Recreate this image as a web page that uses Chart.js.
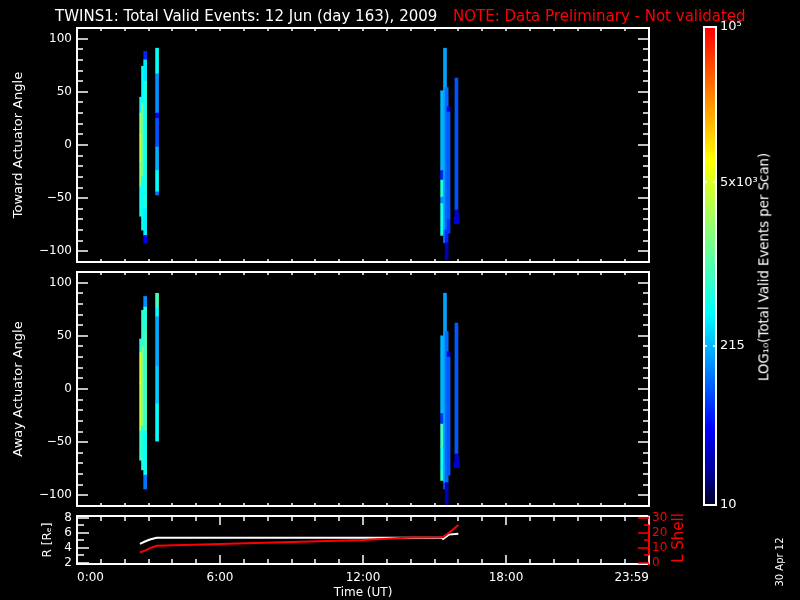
<!DOCTYPE html>
<html>
<head>
<meta charset="utf-8">
<script src="https://cdn.jsdelivr.net/npm/chart.js@4.4.1/dist/chart.umd.min.js"></script>
<style>
  html, body { margin: 0; background: #000; }
  #wrap { position: relative; width: 800px; height: 600px; overflow: hidden; background: #000; font-family: "DejaVu Sans", sans-serif; }
  #wrap canvas { position: absolute; left: 0; top: 0; }
  .txt { position: absolute; white-space: nowrap; color: #fff; line-height: 1; }
  .rot { transform: translate(-50%, -50%) rotate(-90deg); }
</style>
</head>
<body>
<div id="wrap">
  <canvas id="toward" width="800" height="600"></canvas>
  <canvas id="away" width="800" height="600"></canvas>
  <canvas id="orbit" width="800" height="600"></canvas>
  <canvas id="cbar" width="800" height="600"></canvas>
  <div class="txt" style="left:55px; top:9px; font-size:15px;">TWINS1: Total Valid Events: 12 Jun (day 163), 2009</div>
  <div class="txt" style="left:453px; top:9px; font-size:15px; color:#f00;">NOTE: Data Preliminary - Not validated</div>
  <div class="txt rot" style="left:764px; top:267px; font-size:13.3px;">LOG₁₀(Total Valid Events per Scan)</div>
  <div class="txt rot" style="left:678px; top:538px; font-size:15px; color:#f00;">L Shell</div>
  <div class="txt rot" style="left:780px; top:562px; font-size:10px;">30 Apr 12</div>
</div>
<script>
// ------------------ Dados ------------------
// eixo do tempo (horas UT)
const timeTicks = [0, 6, 12, 18, 24];
const timeLabels = ['0:00', '6:00', '12:00', '18:00', '23:59'];

// barra de cores (eventos por varredura, escala log)
const barTicks = [10, 215, 5000, 100000];
const barLabels = ['10', '215', '5x10³', '10⁵'];

// colunas do espectrograma: [hora UT, angulo min, angulo max, eventos]
const toward = [
  [2.69, 30, 45, 380],
  [2.69, 10, 30, 2200],
  [2.69, -15, 10, 3500],
  [2.69, -39, -15, 2000],
  [2.69, -67, -39, 500],
  [2.77, 40, 74, 420],
  [2.77, -30, 40, 1300],
  [2.77, -80, -30, 450],
  [2.86, 80, 88, 60],
  [2.86, 60, 80, 330],
  [2.86, -60, 60, 520],
  [2.86, -85, -60, 350],
  [2.86, -92, -85, 40],
  [3.36, 67, 91, 420],
  [3.36, 30, 67, 150],
  [3.36, 25, 30, 40],
  [3.36, -2, 25, 90],
  [3.36, -24, -2, 200],
  [3.36, -44, -24, 400],
  [3.36, -47, -44, 120],
  [15.32, -24, 51, 210],
  [15.32, -33, -24, 60],
  [15.32, -49, -33, 550],
  [15.32, -55, -49, 150],
  [15.32, -85, -55, 480],
  [15.44, -80, 91, 180],
  [15.44, -92, -80, 120],
  [15.51, -80, 54, 110],
  [15.51, -92, -80, 60],
  [15.51, -108, -92, 25],
  [15.59, 31, 36, 35],
  [15.59, -70, 31, 95],
  [15.59, -83, -70, 70],
  [15.88, -74, -68, 30],
  [15.92, -61, 63, 90],
  [15.92, -74, -61, 35],
  [15.97, -74, -64, 30]
];

const away = [
  [2.69, 34, 47, 600],
  [2.69, 5, 34, 4500],
  [2.69, -39, 5, 3800],
  [2.69, -67, -39, 700],
  [2.77, 40, 74, 700],
  [2.77, -35, 40, 1800],
  [2.77, -76, -35, 600],
  [2.86, 77, 87, 150],
  [2.86, 55, 77, 600],
  [2.86, -40, 55, 800],
  [2.86, -81, -40, 450],
  [2.86, -94, -81, 120],
  [3.36, 77, 90, 900],
  [3.36, 68, 77, 420],
  [3.36, 21, 68, 190],
  [3.36, -14, 21, 260],
  [3.36, -49, -14, 400],
  [15.32, -23, 50, 210],
  [15.32, -33, -23, 70],
  [15.32, -55, -33, 800],
  [15.32, -78, -55, 450],
  [15.32, -86, -78, 650],
  [15.44, -88, 90, 180],
  [15.44, -94, -88, 90],
  [15.51, -88, 54, 110],
  [15.51, -109, -88, 25],
  [15.59, 30, 35, 35],
  [15.59, -81, 30, 95],
  [15.88, -74, -68, 30],
  [15.92, -61, 62, 95],
  [15.92, -74, -61, 35],
  [15.97, -74, -64, 30]
];

// orbita: distancia R [Re] e L shell
const rHours = [2.64, 2.85, 3.06, 3.34, 15.3, 15.36, 15.6, 16.0];
const rValues = [4.48, 4.8, 5.07, 5.3, 5.3, 5.15, 5.72, 5.82];
const lHours = [2.64, 2.85, 3.06, 3.34, 6, 9, 12, 14, 15.36, 15.7, 16.0];
const lValues = [6.7, 7.9, 9.6, 11.2, 12.3, 13.6, 15.0, 16.7, 16.9, 21, 25];

// ------------------ Cores ------------------
const cmap = [
  [0, 0, 0, 40], [0.06, 0, 0, 140], [0.16, 0, 0, 255], [0.28, 0, 128, 255],
  [0.40, 0, 255, 255], [0.56, 128, 255, 128], [0.72, 255, 255, 0],
  [0.86, 255, 128, 0], [1, 255, 0, 0]
];
const logMin = Math.log10(barTicks[0]);
const logMax = Math.log10(barTicks[barTicks.length - 1]);

function evColor(n) {
  const f = Math.min(1, Math.max(0, (Math.log10(n) - logMin) / (logMax - logMin)));
  for (let i = 1; i < cmap.length; i++) {
    if (f <= cmap[i][0]) {
      const a = cmap[i - 1], b = cmap[i], t = (f - a[0]) / (b[0] - a[0]);
      return 'rgb(' + [1, 2, 3].map(k => Math.round(a[k] + t * (b[k] - a[k]))).join(',') + ')';
    }
  }
  return 'rgb(255,0,0)';
}

// ------------------ Moldura e marcas internas ------------------
// fora das opcoes do Chart.js, por id do canvas
const frames = {
  toward: {color: '#fff', marks: [
    {scale: 'x', from: 0, to: 24, step: 1, len: 3, edges: ['top', 'bottom']},
    {scale: 'y', from: -100, to: 100, step: 10, major: 50, len: 6, majorLen: 11, edges: ['left', 'right']}
  ]},
  away: {color: '#fff', marks: [
    {scale: 'x', from: 0, to: 24, step: 1, len: 3, edges: ['top', 'bottom']},
    {scale: 'y', from: -100, to: 100, step: 10, major: 50, len: 6, majorLen: 11, edges: ['left', 'right']}
  ]},
  orbit: {color: '#fff', right: '#f00', marks: [
    {scale: 'x', from: 0, to: 24, step: 1, major: 6, len: 5, majorLen: 9, edges: ['top', 'bottom']},
    {scale: 'y', from: 2, to: 8, step: 1, major: 2, len: 7, majorLen: 12, edges: ['left']},
    {scale: 'yL', from: 0, to: 30, step: 5, major: 10, len: 5, majorLen: 11, edges: ['right'], color: '#f00'}
  ]},
  cbar: {color: '#fff', marks: [
    {scale: 'y', values: [215, 5000], len: 3, edges: ['left', 'right']}
  ]}
};

const frameTicks = {
  id: 'frameTicks',
  afterDraw(chart) {
    const f = frames[chart.canvas.id];
    if (!f) return;
    const {ctx, chartArea: a} = chart;
    ctx.save();
    ctx.lineWidth = 2;
    const side = (c, x1, y1, x2, y2) => {
      ctx.strokeStyle = c;
      ctx.beginPath(); ctx.moveTo(x1, y1); ctx.lineTo(x2, y2); ctx.stroke();
    };
    side(f.color, a.left, a.top - 1, a.left, a.bottom + 1);
    side(f.color, a.left - 1, a.top, a.right + 1, a.top);
    side(f.color, a.left - 1, a.bottom, a.right + 1, a.bottom);
    side(f.right || f.color, a.right, a.top - 1, a.right, a.bottom + 1);

    ctx.lineWidth = 1.5;
    f.marks.forEach(m => {
      const s = chart.scales[m.scale];
      const vals = m.values ? m.values.slice() : [];
      if (m.step) for (let v = m.from; v <= m.to + 1e-9; v += m.step) vals.push(v);
      ctx.strokeStyle = m.color || '#fff';
      ctx.beginPath();
      vals.forEach(v => {
        const isMajor = m.major && Math.abs(v / m.major - Math.round(v / m.major)) < 1e-6;
        const len = isMajor ? m.majorLen : m.len;
        const p = Math.round(s.getPixelForValue(v));
        m.edges.forEach(e => {
          if (e === 'bottom') { ctx.moveTo(p, a.bottom); ctx.lineTo(p, a.bottom - len); }
          if (e === 'top') { ctx.moveTo(p, a.top); ctx.lineTo(p, a.top + len); }
          if (e === 'left') { ctx.moveTo(a.left, p); ctx.lineTo(a.left + len, p); }
          if (e === 'right') { ctx.moveTo(a.right, p); ctx.lineTo(a.right - len, p); }
        });
      });
      ctx.stroke();
    });
    ctx.restore();
  }
};
Chart.register(frameTicks);

Chart.defaults.font.family = '"DejaVu Sans", sans-serif';
Chart.defaults.font.size = 12;
Chart.defaults.color = '#fff';
Chart.defaults.animation = false;
Chart.defaults.events = [];
Chart.defaults.plugins.legend.display = false;
Chart.defaults.plugins.tooltip.enabled = false;

const noGrid = {display: false, drawTicks: false};

// ------------------ Paineis de angulo ------------------
function anglePanel(id, rows, title, top, bottom) {
  return new Chart(document.getElementById(id), {
    type: 'bar',
    data: {
      datasets: [{
        data: rows.map(r => ({x: r[0], y: [r[1], r[2]]})),
        backgroundColor: rows.map(r => evColor(r[3])),
        barThickness: 3,
        borderWidth: 0,
        grouped: false
      }]
    },
    options: {
      responsive: false,
      layout: {padding: {left: 0, right: 151, top: top, bottom: 600 - bottom}},
      scales: {
        x: {type: 'linear', min: 0, max: 24, offset: false, display: false},
        y: {
          min: -110, max: 110,
          grid: noGrid, border: {display: false},
          ticks: {stepSize: 50, includeBounds: false, padding: 5, autoSkip: false,
                  callback: v => String(v).replace('-', '\u2212')},
          title: {display: true, text: title, font: {size: 13}, padding: {top: 11, bottom: 0}},
          afterFit: s => { s.width = 77; }
        }
      }
    }
  });
}

anglePanel('toward', toward, 'Toward Actuator Angle', 28, 262);
anglePanel('away', away, 'Away Actuator Angle', 272, 506);

// ------------------ Orbita ------------------
new Chart(document.getElementById('orbit'), {
  type: 'line',
  data: {
    datasets: [
      {data: lHours.map((h, i) => ({x: h, y: lValues[i]})), yAxisID: 'yL',
       borderColor: '#f00', borderWidth: 2, pointRadius: 0, tension: 0},
      {data: rHours.map((h, i) => ({x: h, y: rValues[i]})), yAxisID: 'y',
       borderColor: '#fff', borderWidth: 2, pointRadius: 0, tension: 0}
    ]
  },
  options: {
    responsive: false,
    layout: {padding: {left: 0, right: 111, top: 516, bottom: 0}},
    scales: {
      x: {
        type: 'linear', min: 0, max: 24, offset: false,
        grid: noGrid, border: {display: false},
        afterBuildTicks: s => { s.ticks = timeTicks.map(v => ({value: v})); },
        ticks: {callback: (v, i) => timeLabels[i], align: 'inner', padding: 7, maxRotation: 0, autoSkip: false},
        title: {display: true, text: 'Time (UT)', padding: 0},
        afterFit: s => { s.height = 36; }
      },
      y: {
        position: 'left', min: 1.8, max: 8.2,
        grid: noGrid, border: {display: false},
        ticks: {stepSize: 2, includeBounds: false, padding: 5, autoSkip: false},
        title: {display: true, text: 'R [Rₑ]', padding: {top: 41, bottom: 0}},
        afterFit: s => { s.width = 77; }
      },
      yL: {
        position: 'right', min: -1, max: 31,
        grid: noGrid, border: {display: false},
        ticks: {stepSize: 10, includeBounds: false, padding: 3, autoSkip: false, color: '#f00'},
        afterFit: s => { s.width = 40; }
      }
    }
  }
});

// ------------------ Barra de cores ------------------
new Chart(document.getElementById('cbar'), {
  type: 'bar',
  data: {
    labels: [''],
    datasets: [{
      data: [[barTicks[0], barTicks[barTicks.length - 1]]],
      barPercentage: 1, categoryPercentage: 1, borderWidth: 0,
      backgroundColor: c => {
        const a = c.chart.chartArea;
        if (!a) return '#000';
        const g = c.chart.ctx.createLinearGradient(0, a.bottom, 0, a.top);
        cmap.forEach(s => g.addColorStop(s[0], 'rgb(' + s[1] + ',' + s[2] + ',' + s[3] + ')'));
        return g;
      }
    }]
  },
  options: {
    responsive: false,
    layout: {padding: {left: 704, right: 34, top: 27, bottom: 95}},
    scales: {
      x: {display: false},
      y: {
        type: 'logarithmic', position: 'right',
        min: barTicks[0], max: barTicks[barTicks.length - 1],
        grid: noGrid, border: {display: false},
        afterBuildTicks: s => { s.ticks = barTicks.map(v => ({value: v})); },
        ticks: {callback: (v, i) => barLabels[i], padding: 4, autoSkip: false, font: {size: 13}},
        afterFit: s => { s.width = 50; }
      }
    }
  }
});
</script>
</body>
</html>
